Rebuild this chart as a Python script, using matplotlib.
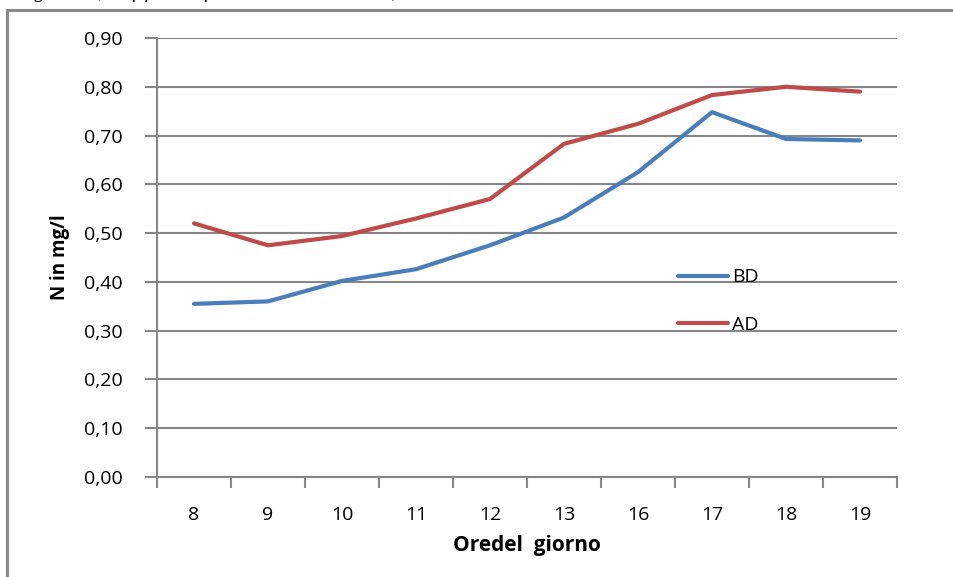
import numpy as np
import matplotlib
matplotlib.use('Agg')
import matplotlib.pyplot as plt
from matplotlib.patches import Rectangle
from matplotlib.ticker import FuncFormatter

hours = ['8', '9', '10', '11', '12', '13', '16', '17', '18', '19']
bd = [0.355, 0.360, 0.402, 0.426, 0.475, 0.532, 0.625, 0.748, 0.693, 0.690]
ad = [0.520, 0.475, 0.494, 0.530, 0.570, 0.683, 0.724, 0.783, 0.800, 0.790]
yticks = np.arange(0, 0.91, 0.1)

plt.rcParams['font.family'] = ['Open Sans', 'DejaVu Sans']
grey = '#868686'

fig = plt.figure(figsize=(9.54, 5.77), dpi=100)
ax = fig.add_axes([157/954, 1 - 477/577, 740/954, 439/577])

x = np.arange(len(hours))
ax.plot(x, bd, color='#4a7ebb', lw=3, solid_capstyle='round', label='BD')
ax.plot(x, ad, color='#be4b48', lw=3, solid_capstyle='round', label='AD')

ax.set_xlim(-0.5, len(hours) - 0.5)
ax.set_ylim(0, 0.9)
ax.set_yticks(yticks)
ax.yaxis.set_major_formatter(FuncFormatter(lambda v, p: ('%.2f' % v).replace('.', ',')))
ax.set_xticks(x)
ax.set_xticklabels(hours)
ax.set_xticks(np.arange(-0.5, len(hours)), minor=True)
ax.tick_params(axis='x', which='major', length=0, pad=21, labelsize=14)
ax.tick_params(axis='x', which='minor', length=8, width=1.5, color=grey)
ax.tick_params(axis='y', length=9, width=1.5, color=grey, pad=16, labelsize=14)
ax.grid(axis='y', color=grey, lw=1.5)
ax.set_axisbelow(True)
for s in ['top', 'right']:
    ax.spines[s].set_visible(False)
for s in ['left', 'bottom']:
    ax.spines[s].set_color(grey)
    ax.spines[s].set_linewidth(1.5)

ax.set_ylabel('N in mg/l', fontsize=13.5, fontweight='bold', labelpad=10)
ax.set_xlabel('Oredel  giorno', fontsize=15, fontweight='bold', labelpad=8)

ax.legend(loc='upper left', bbox_to_anchor=(0.68, 0.515), frameon=False, fontsize=14,
          handlelength=2.6, handletextpad=0.2, labelspacing=1.5)

# outer chart frame, cut off at right and bottom
fig.patches.append(Rectangle((7/954, -0.1), 1.1, 1 - 10/577 + 0.1, transform=fig.transFigure,
                             fill=False, edgecolor='#888888', lw=2.2))

# caption of the page, mostly cut off at the top
fig.text(14/954, 1 + 2/577, 'Figura 4, rapporto per la vasca aerata)', family='DejaVu Serif',
         style='italic', fontsize=14, va='baseline')

plt.savefig('out.png', dpi=100)
